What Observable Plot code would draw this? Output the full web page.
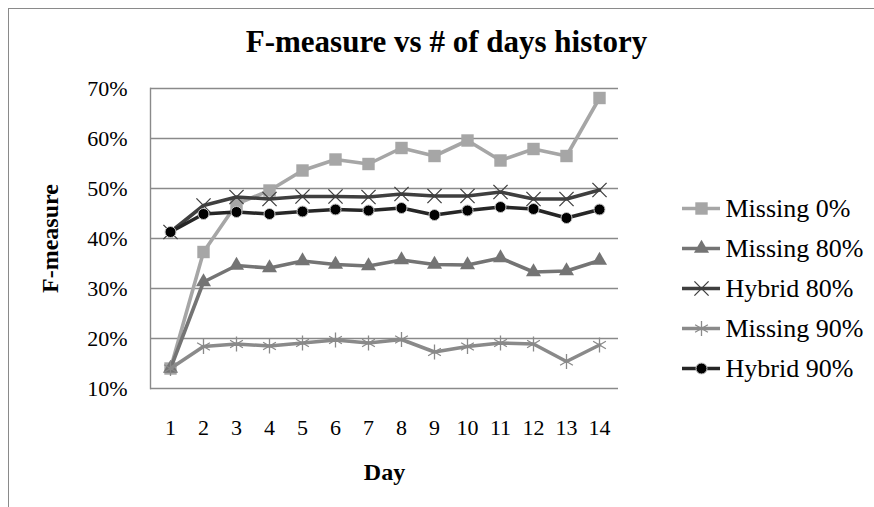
<!DOCTYPE html>
<html>
<head>
<meta charset="utf-8">
<script src="https://cdn.jsdelivr.net/npm/d3@7"></script>
<script src="https://cdn.jsdelivr.net/npm/@observablehq/plot@0.6"></script>
<style>
  html, body { margin: 0; padding: 0; background: #fff; }
  #wrap { position: relative; width: 874px; height: 507px; overflow: hidden; background: #fff; }
  #border { position: absolute; left: 8px; top: 8px; width: 900px; height: 520px;
            border-left: 1.5px solid #8a8a8a; border-top: 1.5px solid #8a8a8a; }
  #main { position: absolute; left: 0; top: 0; }
  #legend { position: absolute; left: 680px; top: 188px; }
  svg text { font-family: 'Liberation Serif', 'Times New Roman', serif; }
</style>
</head>
<body>
<div id="wrap"><div id="border"></div><div id="main"></div><div id="legend"></div></div>
<script>
// ---- data ----
const days = [1, 2, 3, 4, 5, 6, 7, 8, 9, 10, 11, 12, 13, 14];
const seriesNames = ["Missing 0%", "Missing 80%", "Hybrid 80%", "Missing 90%", "Hybrid 90%"];
const missing0  = [14.0, 37.3, 46.9, 49.6, 53.6, 55.8, 54.9, 58.1, 56.5, 59.6, 55.6, 57.9, 56.5, 68.1];
const missing80 = [14.0, 31.3, 34.6, 34.1, 35.5, 34.8, 34.5, 35.7, 34.8, 34.7, 36.1, 33.3, 33.5, 35.6];
const hybrid80  = [41.3, 46.6, 48.3, 47.9, 48.4, 48.4, 48.3, 48.9, 48.5, 48.5, 49.3, 47.9, 47.9, 49.7];
const missing90 = [14.0, 18.4, 18.9, 18.5, 19.1, 19.7, 19.1, 19.8, 17.3, 18.4, 19.1, 18.9, 15.4, 18.7];
const hybrid90  = [41.3, 44.9, 45.3, 44.9, 45.4, 45.8, 45.6, 46.1, 44.7, 45.6, 46.3, 45.9, 44.1, 45.8];
const yTicks = [10, 20, 30, 40, 50, 60, 70];
const titleText = "F-measure vs # of days history";
const xLabel = "Day";
const yLabel = "F-measure";

// ---- styles ----
const seriesValues = [missing0, missing80, hybrid80, missing90, hybrid90];
const lineColors = ["#a6a6a6", "#747474", "#3f3f3f", "#8a8a8a", "#262626"];
const symbols = ["square", "triangle", "times", "asterisk", "circle"];
const markerR = [7, 5.6, 6.5, 7, 5.5];
const markerFill = ["#a6a6a6", "#747474", "none", "none", "#000"];
const markerStroke = ["none", "none", "#3f3f3f", "#8a8a8a", "#c8c8c8"];
const markerStrokeWidth = [0, 0, 1.3, 1.3, 1];
const serif = "'Liberation Serif', 'Times New Roman', serif";

const table = seriesNames.flatMap((name, i) =>
  days.map((d, j) => ({series: name, day: d, value: seriesValues[i][j]})));

const seriesMarks = seriesNames.flatMap((name, i) => {
  const rows = table.filter(r => r.series === name);
  return [
    Plot.line(rows, {x: "day", y: "value", stroke: lineColors[i], strokeWidth: 3.6, strokeLinejoin: "round"}),
    Plot.dot(rows, {x: "day", y: "value", symbol: () => symbols[i], r: markerR[i],
      fill: markerFill[i], stroke: markerStroke[i], strokeWidth: markerStrokeWidth[i]})
  ];
});

const main = Plot.plot({
  width: 874, height: 507,
  marginLeft: 150, marginRight: 256, marginTop: 88, marginBottom: 119,
  style: {fontFamily: serif, background: "transparent", color: "#000"},
  x: {type: "point", domain: days, padding: 0.5},
  y: {domain: [10, 70]},
  symbol: {type: "identity"},
  marks: [
    Plot.gridY(yTicks, {stroke: "#8a8a8a", strokeOpacity: 1, strokeWidth: 1.4}),
    Plot.frame({anchor: "left", stroke: "#8a8a8a", strokeWidth: 1.4}),
    Plot.axisY(yTicks, {tickSize: 0, tickPadding: 23, tickFormat: d => d + "%", fontSize: 22, label: null, fill: "#000", fontFamily: serif}),
    Plot.axisX(days, {tickSize: 0, tickPadding: 31, fontSize: 22, label: null, fill: "#000", fontFamily: serif}),
    ...seriesMarks,
    Plot.text([titleText], {frameAnchor: "top", dy: -46, dx: 62, text: d => d, fontSize: 31, fontWeight: "bold",
      fill: "#000", textAnchor: "middle", lineAnchor: "middle", fontFamily: serif}),
    Plot.text([xLabel], {frameAnchor: "bottom", dy: 84, text: d => d, fontSize: 24, fontWeight: "bold",
      fill: "#000", textAnchor: "middle", lineAnchor: "middle", fontFamily: serif}),
    Plot.text([yLabel], {frameAnchor: "left", dx: -100, rotate: -90, text: d => d, fontSize: 24, fontWeight: "bold",
      fill: "#000", textAnchor: "middle", lineAnchor: "middle", fontFamily: serif})
  ]
});
document.getElementById("main").appendChild(main);

// ---- legend ----
const legendRows = seriesNames.map((name, i) => ({name, i}));
const legend = Plot.plot({
  width: 194, height: 200,
  marginLeft: 2, marginRight: 152, marginTop: 20, marginBottom: 20,
  style: {fontFamily: serif, background: "transparent", color: "#000"},
  x: {domain: [0, 40], axis: null},
  y: {type: "point", domain: seriesNames, padding: 0, axis: null},
  symbol: {type: "identity"},
  color: {type: "identity"},
  r: {type: "identity"},
  marks: [
    Plot.ruleY(legendRows, {y: "name", x1: 0, x2: 38, stroke: d => lineColors[d.i], strokeWidth: 3.6}),
    Plot.dot(legendRows, {y: "name", x: 19, symbol: d => symbols[d.i], r: d => markerR[d.i],
      fill: d => markerFill[d.i], stroke: d => markerStroke[d.i], strokeWidth: d => markerStrokeWidth[d.i]}),
    Plot.text(legendRows, {y: "name", x: 40, text: "name", textAnchor: "start", dx: 3, fontSize: 26,
      fill: "#000", fontFamily: serif})
  ]
});
document.getElementById("legend").appendChild(legend);
</script>
</body>
</html>
